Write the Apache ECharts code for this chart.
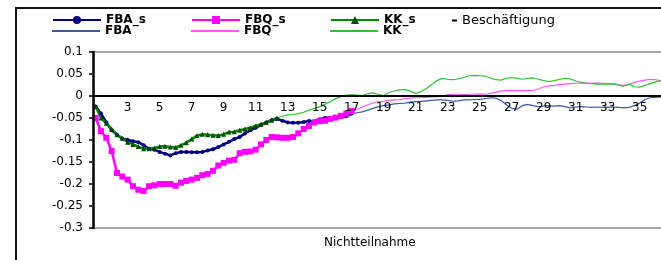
<!DOCTYPE html>
<html>
<head>
<meta charset="utf-8">
<script src="https://cdn.jsdelivr.net/npm/echarts@6/dist/echarts.min.js"></script>
<style>
  html, body { margin: 0; padding: 0; background: #fff; }
  #chart { width: 661px; height: 260px; }
</style>
</head>
<body>
<div id="chart"></div>
<script>
// monthly points, x labels show quarter numbers
var months = Array.from({ length: 108 }, function (_, i) { return String(i + 1); });

// thick lines (with markers)
var fbaS = [-0.024, -0.04, -0.06, -0.078, -0.088, -0.097, -0.1, -0.103, -0.105, -0.112,
  -0.12, -0.122, -0.127, -0.131, -0.135, -0.13, -0.127, -0.127, -0.128, -0.128,
  -0.127, -0.124, -0.121, -0.116, -0.11, -0.104, -0.098, -0.093, -0.085, -0.078,
  -0.072, -0.066, -0.06, -0.055, -0.052, -0.056, -0.06, -0.061, -0.061, -0.059,
  -0.057, -0.058, -0.053, -0.05, -0.05, -0.05, -0.047, -0.046, -0.04];
var fbqS = [-0.05, -0.08, -0.095, -0.125, -0.175, -0.183, -0.19, -0.205, -0.213, -0.216,
  -0.205, -0.203, -0.2, -0.2, -0.2, -0.204, -0.197, -0.193, -0.19, -0.186,
  -0.18, -0.177, -0.17, -0.158, -0.152, -0.147, -0.145, -0.13, -0.127, -0.126,
  -0.122, -0.11, -0.1, -0.093, -0.094, -0.095, -0.095, -0.093, -0.085, -0.075,
  -0.068, -0.06, -0.057, -0.056, -0.052, -0.049, -0.045, -0.04, -0.034];
var kkS = [-0.024, -0.05, -0.062, -0.075, -0.088, -0.096, -0.105, -0.11, -0.115, -0.12,
  -0.12, -0.118, -0.115, -0.114, -0.116, -0.117, -0.112, -0.106, -0.098, -0.09,
  -0.087, -0.088, -0.089, -0.09, -0.087, -0.082, -0.081, -0.078, -0.075, -0.072,
  -0.068, -0.064, -0.06, -0.055, -0.05];

// thin lines: continuation after the thick part
var fbaRest = [-0.038, -0.036, -0.032, -0.028, -0.024, -0.022, -0.02, -0.018, -0.017, -0.016,
  -0.014, -0.013, -0.012, -0.011, -0.01, -0.009, -0.009, -0.01, -0.012, -0.011,
  -0.009, -0.009, -0.008, -0.008, -0.006, -0.004, -0.005, -0.01, -0.02, -0.028,
  -0.03, -0.022, -0.019, -0.022, -0.024, -0.023, -0.022, -0.023, -0.022, -0.024,
  -0.027, -0.025, -0.024, -0.025, -0.026, -0.025, -0.026, -0.026, -0.025, -0.026,
  -0.027, -0.026, -0.022, -0.016, -0.008, -0.004, -0.003, -0.002, -0.001];
var fbqRest = [-0.03, -0.025, -0.02, -0.016, -0.013, -0.012, -0.01, -0.009, -0.008, -0.006,
  -0.005, -0.004, -0.004, -0.003, -0.002, -0.002, 0.0, 0.003, 0.004, 0.004,
  0.003, 0.004, 0.004, 0.005, 0.004, 0.006, 0.009, 0.011, 0.012, 0.012,
  0.012, 0.012, 0.012, 0.013, 0.016, 0.021, 0.023, 0.024, 0.026, 0.027,
  0.028, 0.029, 0.029, 0.03, 0.029, 0.03, 0.029, 0.028, 0.028, 0.026,
  0.024, 0.026, 0.031, 0.034, 0.036, 0.038, 0.037, 0.035, 0.035];
var kkRest = [-0.046, -0.043, -0.042, -0.04, -0.037, -0.032, -0.028, -0.024, -0.019, -0.013,
  -0.006, -0.001, 0.002, 0.003, 0.002, 0.001, 0.005, 0.007, 0.004, 0.001,
  0.008, 0.012, 0.014, 0.015, 0.011, 0.006, 0.01, 0.017, 0.026, 0.035,
  0.04, 0.038, 0.037, 0.039, 0.042, 0.046, 0.047, 0.046, 0.045, 0.041,
  0.037, 0.036, 0.04, 0.042, 0.04, 0.038, 0.04, 0.041, 0.038, 0.035,
  0.033, 0.035, 0.038, 0.04, 0.039, 0.034, 0.031, 0.029, 0.028, 0.027,
  0.027, 0.027, 0.027, 0.025, 0.022, 0.027, 0.021, 0.02, 0.024, 0.028,
  0.032, 0.035, 0.036];

var fba = fbaS.concat(fbaRest);
var fbq = fbqS.concat(fbqRest);
var kk = kkS.concat(kkRest);

var yMin = -0.3, yMax = 0.1;

var font = "DejaVu Sans";
var legendFont = { fontFamily: font, fontSize: 12, fontWeight: "bold", color: "#000" };

// one legend per item so the columns line up like the original
function legendItem(name, left, top, thin) {
  var l = {
    left: left, top: top, padding: 0,
    itemWidth: 48, itemHeight: thin ? 2 : 10,
    textStyle: legendFont,
    data: [name]
  };
  if (thin) l.icon = "rect";
  return l;
}

var chart = echarts.init(document.getElementById("chart"));

chart.setOption({
  backgroundColor: "#fff",
  animation: false,
  title: {
    text: "Nichtteilnahme",
    left: 324, top: 237, padding: 0,
    textStyle: { fontFamily: font, fontSize: 12, fontWeight: "normal", color: "#000" }
  },
  graphic: {
    type: "rect", id: "outerFrame", silent: true, z: 100,
    shape: { x: 16, y: 8, width: 700, height: 300 },
    style: { fill: null, stroke: "#111", lineWidth: 2 }
  },
  legend: [
    legendItem("FBA_s", 52, 14, false),
    legendItem("FBQ_s", 191, 14, false),
    legendItem("KK_s", 330, 14, false),
    legendItem("FBA", 52, 25, true),
    legendItem("FBQ", 191, 25, true),
    legendItem("KK", 330, 25, true),
    {
      left: 452, top: 14, padding: 0, itemWidth: 5, itemHeight: 2, icon: "rect",
      textStyle: { fontFamily: font, fontSize: 13, color: "#000" },
      data: ["Beschäftigung"]
    }
  ],
  grid: {
    left: 93, top: 52, width: 576, height: 176,
    outerBoundsMode: "none"
  },
  xAxis: {
    type: "category",
    data: months,
    axisLine: { onZero: true, lineStyle: { color: "#000", width: 2 } },
    axisTick: { interval: 0, length: 3, lineStyle: { color: "#000", width: 1.5 } },
    axisLabel: {
      interval: function (index) { return index > 0 && index % 6 === 0; },
      formatter: function (value, index) { return String(index / 3 + 1); },
      // labels sit just under the zero line, as in the original
      fontFamily: font, fontSize: 12, color: "#000", margin: -126
    },
    splitLine: { show: false },
    z: 5
  },
  yAxis: {
    type: "value",
    min: yMin,
    max: yMax,
    interval: 0.05,
    axisLine: { show: true, lineStyle: { color: "#000", width: 2.5 } },
    axisTick: { show: true, length: 4, lineStyle: { color: "#000", width: 1.5 } },
    axisLabel: {
      fontFamily: font, fontSize: 12, color: "#000", margin: 10,
      formatter: function (v) { return String(Math.round(v * 100) / 100); }
    },
    splitLine: { show: false },
    z: 101
  },
  series: [
    { name: "FBA", type: "line", data: fba, showSymbol: false, symbol: "none",
      lineStyle: { color: "#3a5aa8", width: 1.2 }, itemStyle: { color: "#3a5aa8" },
      // gray plot frame at top and bottom
      markLine: {
        silent: true, symbol: ["none", "none"], label: { show: false },
        lineStyle: { color: "#a8a8a8", width: 2, type: "solid" },
        data: [{ yAxis: yMax }, { yAxis: yMin }]
      } },
    { name: "FBQ", type: "line", data: fbq, showSymbol: false, symbol: "none",
      lineStyle: { color: "#ff55ff", width: 1.2 }, itemStyle: { color: "#ff55ff" } },
    { name: "KK", type: "line", data: kk, showSymbol: false, symbol: "none",
      lineStyle: { color: "#33c033", width: 1.2 }, itemStyle: { color: "#33c033" } },
    { name: "FBA_s", type: "line", data: fbaS, symbol: "circle", symbolSize: 4, showAllSymbol: true,
      lineStyle: { color: "#000080", width: 2.5 }, itemStyle: { color: "#000080" } },
    { name: "FBQ_s", type: "line", data: fbqS, symbol: "rect", symbolSize: 6, showAllSymbol: true,
      lineStyle: { color: "#ff00ff", width: 2.5 }, itemStyle: { color: "#ff00ff" } },
    { name: "KK_s", type: "line", data: kkS, symbol: "triangle", symbolSize: 5, showAllSymbol: true,
      lineStyle: { color: "#008a00", width: 2.5 }, itemStyle: { color: "#004d00" } },
    { name: "Beschäftigung", type: "line", data: [], symbol: "rect",
      lineStyle: { color: "#000", width: 1 }, itemStyle: { color: "#000" } }
  ]
});
</script>
</body>
</html>
